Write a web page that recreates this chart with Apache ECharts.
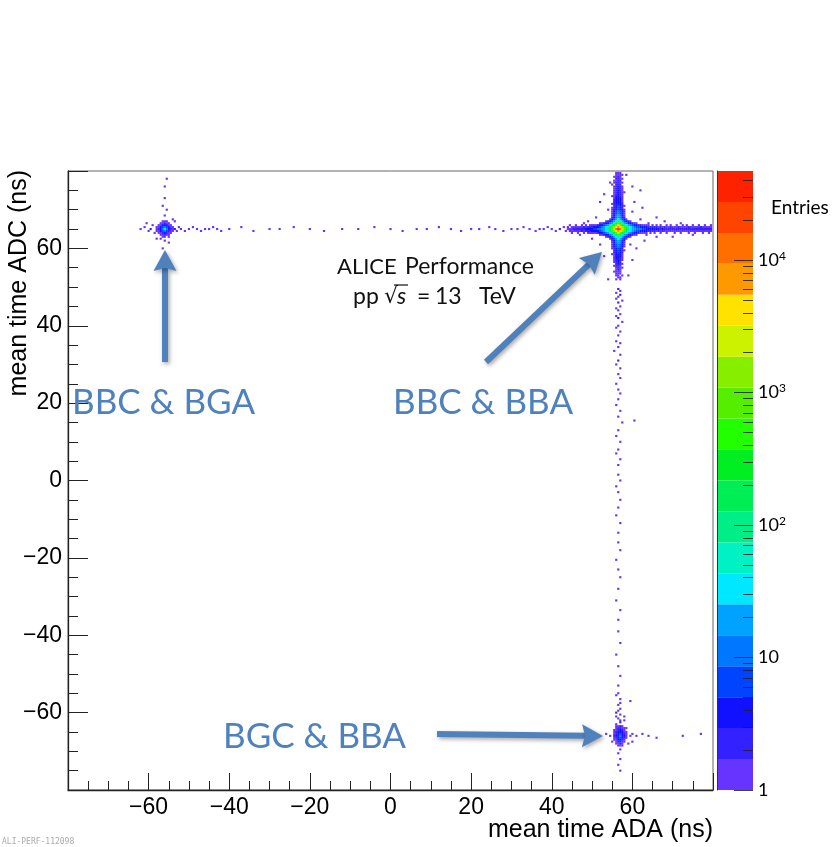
<!DOCTYPE html>
<html><head><meta charset="utf-8">
<script src="https://cdn.jsdelivr.net/npm/echarts@6/dist/echarts.min.js"></script>
<style>html,body{margin:0;padding:0;background:#fff}#c{width:833px;height:847px}</style>
</head><body><div id="c"></div>
<script>
// ---------------- DATA ----------------
const xLabelValues = [-60, -40, -20, 0, 20, 40, 60];
const yLabelValues = [-60, -40, -20, 0, 20, 40, 60];
const colorbarMajor = [1, 10, 100, 1000, 10000];
const colorbarMinor = [2,3,4,5,6,7,8,9,20,30,40,50,60,70,80,90,200,300,400,500,600,700,800,900,2000,3000,4000,5000,6000,7000,8000,9000,20000,30000,40000];
const zMin = 1, zMax = 47000;
const binWidth = 0.5;

// BBC & BBA core: bins x 52.0 .. 61.0, rows y 67.5 (top) .. 62.5
const mainCoreX0 = 52.0, mainCoreYTop = 67.5;
const mainCore = [
  [0,0,0,0,0,1,3,7,18,40,18,7,3,1,0,0,0,0,0],
  [0,0,0,1,2,3,7,16,40,100,40,16,7,3,2,1,0,0,0],
  [1,1,2,3,5,9,18,45,140,380,140,45,18,9,5,3,2,1,1],
  [3,4,6,9,16,32,85,280,850,2000,850,280,85,32,16,9,6,4,3],
  [6,9,15,28,60,170,480,1500,5000,9000,5000,1500,480,170,60,28,15,11,8],
  [10,16,25,40,80,200,700,3000,11000,30000,11000,3000,700,220,80,40,25,16,12],
  [6,9,15,28,60,170,480,1500,5000,9000,5000,1500,480,170,60,28,15,11,8],
  [3,4,6,9,16,32,85,280,850,2000,850,280,85,32,16,9,6,4,3],
  [1,1,2,3,5,9,18,45,140,380,140,45,18,9,5,3,2,1,1],
  [0,0,0,1,2,3,7,16,40,100,40,16,7,3,2,1,0,0,0],
  [0,0,0,0,0,1,3,7,18,40,18,7,3,1,0,0,0,0,0]
];
// vertical arm above core: bins x 55.0 .. 58.0, rows y 79.5 .. 68.0
const armUpX0 = 55.0, armUpYTop = 79.5;
const armUp = [
  [0,0,1,1,1,0,0],[0,0,1,1,1,1,0],[0,1,1,2,1,0,0],[0,0,2,2,1,1,0],
  [0,1,1,2,2,0,0],[0,1,2,2,1,1,0],[1,0,2,2,2,0,0],[0,1,2,3,2,1,0],
  [0,1,2,3,2,1,0],[0,1,2,3,2,1,0],[0,1,2,3,2,1,1],[0,1,2,3,2,1,0],
  [1,1,3,4,2,1,0],[0,1,3,4,3,1,0],[0,2,3,4,3,1,0],[0,2,3,5,3,1,0],
  [1,2,4,5,3,2,0],[0,2,4,6,4,2,1],[1,2,5,7,5,2,0],[1,3,5,8,5,3,1],
  [1,3,6,10,6,3,1],[1,3,7,12,7,3,1],[1,4,9,16,9,4,1],[2,5,12,22,12,5,2]
];
// vertical arm below core: bins x 55.0 .. 58.0, rows y 62.0 .. 52.0
const armDownX0 = 55.0, armDownYTop = 62.0;
const armDown = [
  [2,5,12,22,12,5,2],[1,4,9,16,9,4,1],[1,3,7,12,7,3,1],[1,3,6,9,6,3,1],
  [1,2,5,8,5,2,0],[0,2,4,7,4,2,1],[0,2,4,6,4,2,0],[1,1,3,5,3,1,0],
  [0,1,3,4,3,1,0],[0,1,3,4,2,1,0],[0,1,2,3,2,1,0],[0,1,2,3,2,0,0],
  [0,0,2,3,2,1,0],[0,1,2,2,1,0,0],[0,0,1,2,1,1,0],[0,0,1,2,1,0,0],
  [0,1,1,1,1,0,0],[0,0,1,1,1,0,0],[0,0,1,1,0,1,0],[0,0,0,1,1,0,0],
  [0,0,1,0,1,0,0]
];
// horizontal arm right of core: bins x 61.5 .. 79.5, rows y 66.0 .. 64.0
const armRightX0 = 61.5, armRightYTop = 66.0;
const armRight = [
  [2,2,1,1,1,1,0,1,0,1,0,1,0,0,1,0,1,0,0,1,0,0,1,0,1,0,0,1,0,0,1,0,0,1,0,0,1],
  [6,5,4,3,3,2,2,2,2,2,1,2,1,2,1,1,2,1,1,1,2,1,1,1,1,2,1,1,1,1,1,2,1,1,1,1,1],
  [12,9,7,6,5,4,4,3,3,3,3,2,3,2,2,2,2,2,2,2,2,2,2,2,2,2,2,2,2,2,2,2,2,2,2,2,2],
  [6,5,4,3,3,2,2,2,2,1,2,1,2,1,1,1,1,1,1,1,1,1,1,1,1,1,1,1,1,1,1,1,1,1,1,1,1],
  [2,1,1,1,1,0,1,0,1,0,0,1,0,0,1,0,0,0,1,0,0,1,0,0,0,1,0,0,1,0,0,0,1,0,0,1,0]
];
// horizontal arm left of core: bins x 44.0 .. 51.5, rows y 66.0 .. 64.0
const armLeftX0 = 44.0, armLeftYTop = 66.0;
const armLeft = [
  [0,1,0,0,1,0,0,1,0,1,0,1,1,1,1,2],
  [1,0,1,1,1,1,1,1,2,1,2,2,2,3,4,5],
  [1,1,1,2,2,2,2,2,2,3,3,4,5,6,8,10],
  [0,1,1,1,1,1,1,2,1,2,2,2,3,3,4,5],
  [0,0,1,0,0,1,0,0,1,0,1,1,1,1,1,2]
];
// BBC & BGA cluster: bins x -58.0 .. -54.0, rows y 67.0 .. 63.0
const bgaX0 = -58.0, bgaYTop = 67.0;
const bgaCore = [
  [0,0,0,1,1,1,0,0,0],
  [0,0,1,1,2,1,1,0,0],
  [0,1,1,3,4,3,1,1,0],
  [1,1,3,7,12,6,3,1,1],
  [1,2,5,14,38,13,5,2,1],
  [1,1,3,7,11,6,2,1,1],
  [0,1,1,2,4,2,1,1,0],
  [0,0,1,1,2,1,1,0,0],
  [0,0,0,1,1,0,1,0,0]
];
// BGC & BBA cluster: bins x 55.5 .. 58.5, rows y -63.5 .. -68.5
const bgcX0 = 55.5, bgcYTop = -63.5;
const bgcCore = [
  [0,1,1,2,1,0,0],
  [0,1,2,2,1,1,0],
  [1,1,2,3,2,1,0],
  [1,2,3,5,3,1,1],
  [1,2,4,7,4,2,1],
  [2,3,5,9,5,3,1],
  [1,2,4,6,3,2,1],
  [1,1,3,4,2,1,0],
  [0,1,2,2,1,1,0],
  [0,1,1,2,1,0,0],
  [0,0,1,1,1,0,0]
];
// sparse entries [x, y, count]
const bbaHalo = [[54,70,1],[60,69.5,1],[62,67.5,1],[52,61,1],[59.5,61,1],[63,62,1],[51,68,1],[60.5,72,1],[66,68,1],[68,67,1],[53,74,1],[60,76,1],[62.5,70.5,1],[53,58,1],[60,57,1],[64,66.5,1],[70,63,1],[48,66.5,1],[47,63.5,1],[59,53,1],[54,52,1],[58.5,79,1],[54.5,77,1],[63.5,63.5,1],[66,63,1],[72,66.5,1],[75,63.5,1],[50,62.5,1],[49,67,1],[61,60,1],[52,72,1],[62,75,1]];
const bbaVerticalTail = [[56.5,49.5,2],[57,49,1],[56,48.5,1],[57,48,2],[56.5,47.5,1],[56,47,1],[57.5,46.5,1],[56.5,46,2],[57,45,1],[56,44.5,1],[56.5,44,1],[57,43,1],[56,42.5,1],[56.5,42,2],[57.5,41,1],[56.5,40,1],[56,39.5,1],[57,38.5,1],[56.5,37.5,1],[56,36,1],[57,35.5,1],[56.5,34.5,1],[55.5,33.5,1],[57,32.5,1],[56.5,31,2],[56,30,1],[57,29,1],[56.5,27.5,1],[57,26.5,1],[56,25,1],[56.5,23.5,1],[57,22.5,1],[56.5,21,1],[56,19.5,1],[57,18,1],[56.5,16.5,1],[60.5,15.5,1],[57.5,15,1],[56.5,13,1],[56,11.5,1],[57,10,1],[56.5,8,1],[56,7,1],[57,5.5,1],[56.5,4,1],[56.5,1.5,1],[57,0,1],[56,-1.5,1],[56.5,-3,1],[57,-5,1],[56.5,-7,1],[56,-9,1],[57,-11,1],[56.5,-13.5,1],[56.5,-16,1],[57,-18,1],[56,-20.5,1],[56.5,-23,1],[57,-25,1],[56.5,-28,1],[56,-31,1],[57,-33.5,1],[56.5,-36,1],[56.5,-39,1],[57,-42,1],[56,-45,1],[56.5,-48,1],[57,-50.5,1],[56.5,-53,1],[56,-55.5,1],[57,-57.5,1],[56.5,-59.5,1],[56,-61,1],[57,-62,1]];
const beamGasLine = [[-40,65,1],[-37,65.5,1],[-34,64.5,1],[-30,65,1],[-27.5,65,1],[-24,65.5,1],[-20,65,1],[-16.5,64.5,1],[-12,65,1],[-8,65,1],[-4,65.5,1],[0,65,1],[3,64.5,1],[6.5,65,1],[9,65,1],[12,65.5,1],[15,65,1],[17.5,64.5,1],[20,65,1],[22,65,1],[24.5,65.5,1],[26,65,1],[28,64.5,1],[30,65,1],[31.5,65,1],[33,65.5,1],[34.5,65,1],[36,64.5,1],[37,65,1],[38,65,1],[39,65.5,1],[40,65,1],[41,64.5,1],[42,65,2],[43,65.5,1],[43.5,64.5,1]];
const bgaSparse = [[-62,65,1],[-61,65.5,1],[-60,64.5,1],[-59.5,65,2],[-59,66,1],[-58.5,64,1],[-60.5,66.5,1],[-53.5,65,2],[-53,64.5,1],[-52.5,65.5,1],[-52,65,1],[-51,64.5,1],[-50,65,1],[-49,65.5,1],[-48,65,1],[-47,64.5,1],[-46,65,1],[-45,65,1],[-44,65.5,1],[-43,65,1],[-42,64.5,1],[-56,68.5,1],[-55.5,70,1],[-56.5,71,1],[-56,73,1],[-56,76,1],[-55.5,78,1],[-56,62,1],[-55,61.5,1],[-57,62.5,1],[-56.5,60,1],[-54,67.5,1],[-58,62.5,1],[-53.5,67,1]];
const bgcSparse = [[56.5,-55,1],[57,-56.5,1],[56.5,-58,1],[57,-59,1],[56,-60,2],[57,-60.5,1],[56.5,-61.5,1],[57,-62.5,2],[56,-63,1],[58,-62,1],[59.5,-57,1],[57,-69.5,1],[56.5,-70.5,1],[57,-72,1],[56.5,-73.5,1],[57,-75,1],[59.5,-66,1],[60,-65.5,1],[61,-66,1],[62.5,-65.5,1],[64,-66,1],[66,-66.5,1],[72.5,-66,1],[77,-65.5,1],[54.5,-66,1],[53.5,-65.5,1],[55,-67.5,1],[59,-68,1],[60,-67.5,1],[58.5,-64,1],[58,-61,1]];

// ---------------- STYLE ----------------
const bandColors = ['#6633ff','#3322ff','#1111ff','#0044ff','#0077ff','#00a2ff','#00e8ff','#00f2c4','#00ee88','#00ee55','#00ee22','#22ff00','#55ee00','#88ee00','#ccf200','#ffe200','#ff9900','#ff6f00','#ff4400','#ff2200'];
const annotBlue = '#4f81bd';

function blockToPoints(x0, yTop, rows) {
  const pts = [];
  rows.forEach((row, r) => row.forEach((c, k) => {
    if (c > 0) pts.push([x0 + k * binWidth, yTop - r * binWidth, c]);
  }));
  return pts;
}
const histPoints = [].concat(
  blockToPoints(mainCoreX0, mainCoreYTop, mainCore),
  blockToPoints(armUpX0, armUpYTop, armUp),
  blockToPoints(armDownX0, armDownYTop, armDown),
  blockToPoints(armRightX0, armRightYTop, armRight),
  blockToPoints(armLeftX0, armLeftYTop, armLeft),
  blockToPoints(bgaX0, bgaYTop, bgaCore),
  blockToPoints(bgcX0, bgcYTop, bgcCore),
  bbaHalo, bbaVerticalTail, beamGasLine, bgaSparse, bgcSparse
).sort((a, b) => a[2] - b[2]);

const nBands = bandColors.length;
const lzMin = Math.log10(zMin), lzMax = Math.log10(zMax);
const bandEdges = [];
for (let i = 0; i <= nBands; i++) bandEdges.push(Math.pow(10, lzMin + (lzMax - lzMin) * i / nBands));
const pieces = bandColors.map((c, i) => ({gte: i === 0 ? 0 : bandEdges[i], lt: i === nBands - 1 ? 1e9 : bandEdges[i + 1], color: c}));

const fmtNum = v => (v < 0 ? '\u2212' + Math.abs(v) : String(v));
const supMap = {1: '{b|1}', 10: '{b|10}', 100: '{b|10}{s|2}', 1000: '{b|10}{s|3}', 10000: '{b|10}{s|4}'};

function arrow(x1, y1, x2, y2) {
  const dx = x2 - x1, dy = y2 - y1, L = Math.hypot(dx, dy);
  const ux = dx / L, uy = dy / L, px = -uy, py = ux;
  const hl = 21, hw = 11.5;
  const bx = x2 - ux * hl, by = y2 - uy * hl;
  const shadow = {shadowBlur: 4, shadowColor: 'rgba(0,0,0,0.35)', shadowOffsetX: 1.5, shadowOffsetY: 2};
  return [
    {type: 'line', shape: {x1: x1, y1: y1, x2: bx + ux * 4, y2: by + uy * 4}, style: Object.assign({stroke: annotBlue, lineWidth: 6}, shadow), z: 100},
    {type: 'polygon', shape: {points: [[x2, y2], [bx + px * hw, by + py * hw], [bx + ux * 3, by + uy * 3], [bx - px * hw, by - py * hw]]}, style: Object.assign({fill: annotBlue}, shadow), z: 100}
  ];
}
const txt = (x, y, text, font, extra) => ({type: 'text', x: x, y: y, z: 50,
  style: Object.assign({text: text, font: font, fill: '#111', align: 'left', verticalAlign: 'middle'}, extra || {})});

// colorbar tick marks (fractions of the colorbar width, measured from its left side)
const majorTickStart = 1 - 19 / 36, minorTickStart = 1 - 10 / 36;
const cbTicks = colorbarMajor.map(v => [{coord: [majorTickStart, v]}, {coord: [1, v]}])
  .concat(colorbarMinor.map(v => [{coord: [minorTickStart, v]}, {coord: [1, v]}]));

const chart = echarts.init(document.getElementById('c'), null, {renderer: 'canvas'});
const axisColor = '#222';
const option = {
  animation: false,
  backgroundColor: '#fff',
  grid: [
    {left: 68, top: 171, width: 645, height: 619, show: true, borderColor: '#666', borderWidth: 1, backgroundColor: 'transparent'},
    {left: 717, top: 171, width: 36, height: 619}
  ],
  xAxis: [
    {type: 'value', gridIndex: 0, min: -80, max: 80, interval: 20, z: 10,
     axisLine: {onZero: false, lineStyle: {color: axisColor, width: 1.3}},
     axisTick: {inside: true, length: 17, lineStyle: {color: axisColor, width: 1}},
     minorTick: {show: true, splitNumber: 4, length: 9, lineStyle: {color: axisColor, width: 1}},
     splitLine: {show: false},
     axisLabel: {margin: 6, fontFamily: 'Liberation Sans', fontSize: 23, color: '#000',
       formatter: v => xLabelValues.includes(v) ? fmtNum(v) : ''}},
    {type: 'value', gridIndex: 1, min: 0, max: 1, show: false}
  ],
  yAxis: [
    {type: 'value', gridIndex: 0, min: -80, max: 80, interval: 20, z: 10,
     axisLine: {onZero: false, lineStyle: {color: axisColor, width: 1.3}},
     axisTick: {inside: true, length: 20, lineStyle: {color: axisColor, width: 1}},
     minorTick: {show: true, splitNumber: 4, length: 10, lineStyle: {color: axisColor, width: 1}},
     splitLine: {show: false},
     axisLabel: {margin: 6, fontFamily: 'Liberation Sans', fontSize: 23, color: '#000',
       formatter: v => yLabelValues.includes(v) ? fmtNum(v) : ''}},
    {type: 'log', gridIndex: 1, min: zMin, max: zMax, position: 'right', z: 10, logBase: 10,
     axisLine: {show: true, lineStyle: {color: '#333', width: 1}},
     axisTick: {show: false},
     splitLine: {show: false},
     axisLabel: {margin: 5, customValues: colorbarMajor, color: '#000',
       formatter: v => supMap[Math.round(v)] || '',
       rich: {b: {fontFamily: 'Lato', fontSize: 18, color: '#000'}, s: {fontFamily: 'Lato', fontSize: 12, color: '#000', verticalAlign: 'top', padding: [0, 0, 8, 0]}}}}
  ],
  visualMap: {type: 'piecewise', show: false, dimension: 2, seriesIndex: 0, pieces: pieces},
  series: [
    {type: 'scatter', xAxisIndex: 0, yAxisIndex: 0, symbol: 'rect', symbolSize: [2.2, 2.1],
     itemStyle: {opacity: 1}, data: histPoints, silent: true, large: false},
    {type: 'scatter', xAxisIndex: 1, yAxisIndex: 1, data: [[0.5, 1]], symbolSize: 0, silent: true, z: 1,
     markArea: {silent: true, data: bandColors.map((c, i) => [{yAxis: bandEdges[i], itemStyle: {color: c, opacity: 1}}, {yAxis: bandEdges[i + 1]}])}},
    {type: 'scatter', xAxisIndex: 1, yAxisIndex: 1, data: [[0.5, 1]], symbolSize: 0, silent: true, z: 5,
     markLine: {silent: true, symbol: ['none', 'none'], label: {show: false},
       lineStyle: {color: '#222', width: 1, type: 'solid', opacity: 0.85}, data: cbTicks}}
  ],
  graphic: [
    txt(713, 830, 'mean time ADA (ns)', '25px "Liberation Sans"', {fill: '#000', align: 'right'}),
    {type: 'text', x: 19, y: 170, rotation: Math.PI / 2, style: {text: 'mean time ADC (ns)', font: '25px "Liberation Sans"', fill: '#000', align: 'right', verticalAlign: 'middle'}},
    txt(771, 208, 'Entries', '19px Lato', {fill: '#000'}),
    txt(337, 267, 'ALICE', '22px Lato'),
    txt(405, 267, 'Performance', '23px Lato'),
    txt(353, 297, 'pp', '23px Lato'),
    txt(384, 297, '\u221A', '22px "DejaVu Sans"'),
    txt(397, 297, 's', 'italic 23px Lato'),
    {type: 'line', shape: {x1: 394, y1: 285, x2: 408, y2: 285}, style: {stroke: '#111', lineWidth: 1.2}, z: 50},
    txt(417, 297, '=', '23px Lato'),
    txt(435, 297, '13', '23px Lato'),
    txt(479, 297, 'TeV', '23px Lato'),
    txt(72, 403, 'BBC & BGA', '35px Lato', {fill: annotBlue}),
    txt(393, 403, 'BBC & BBA', '35px Lato', {fill: annotBlue}),
    txt(223, 737, 'BGC & BBA', '35px Lato', {fill: annotBlue}),
    txt(2, 842, 'ALI-PERF-112098', '8px "DejaVu Sans Mono"', {fill: '#aaa'})
  ].concat(arrow(165, 362, 165, 250), arrow(486, 362, 602, 252), arrow(437, 734, 603, 736))
};
chart.setOption(option);
</script>
</body></html>
